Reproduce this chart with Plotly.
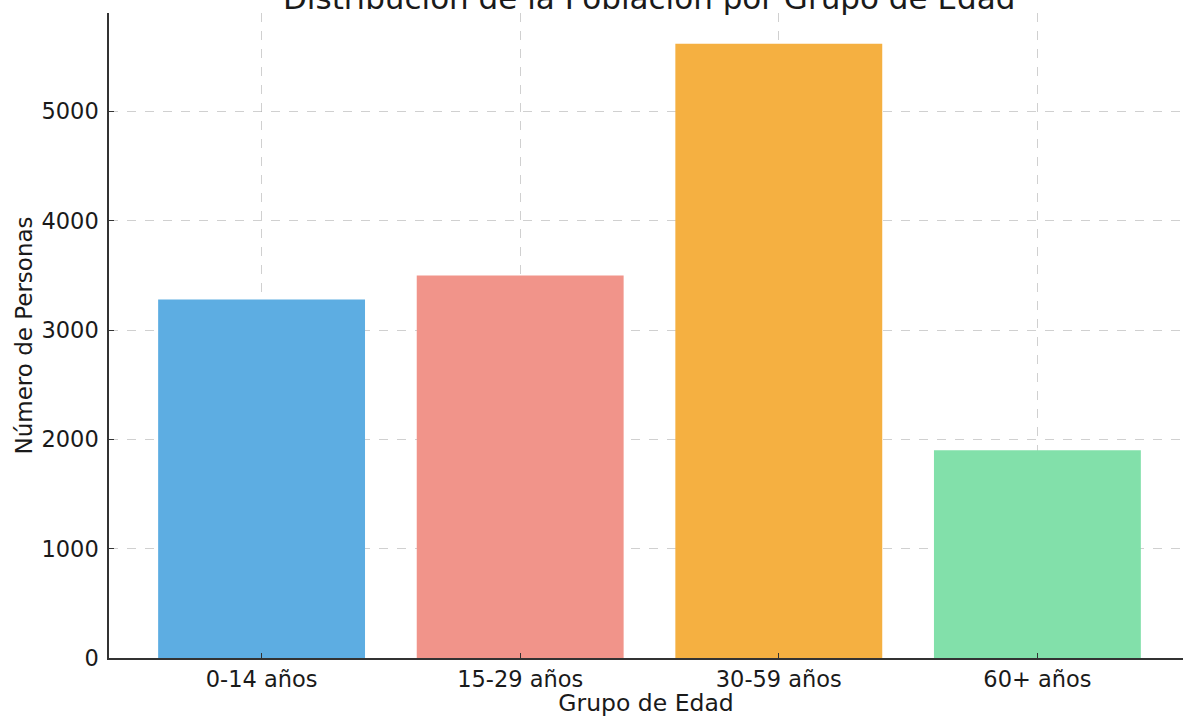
import plotly.graph_objects as go

categories = ["0-14 años", "15-29 años", "30-59 años", "60+ años"]
values = [3280, 3500, 5620, 1900]
colors = ["#5DADE2", "#F1948A", "#F5B041", "#82E0AA"]
y_ticks = [0, 1000, 2000, 3000, 4000, 5000]

title_text = "Distribución de la Población por Grupo de Edad"
x_title = "Grupo de Edad"
y_title = "Número de Personas"

FONT = "DejaVu Sans"
n = len(categories)
xs = list(range(n))

fig = go.Figure()
fig.add_trace(go.Bar(
    x=xs, y=values, width=0.8,
    marker=dict(color=colors, line=dict(width=0)),
    showlegend=False,
))

ymax = max(values) * 1.05

grid = dict(showgrid=True, gridcolor="rgba(170,170,170,0.55)", griddash="dash", gridwidth=1)

fig.update_layout(
    width=1183, height=717,
    margin=dict(l=109, r=0, t=13, b=59, autoexpand=False),
    paper_bgcolor="white", plot_bgcolor="white",
    font=dict(family=FONT, size=22, color="#1a1a1a"),
    bargap=0.2,
    xaxis=dict(
        range=[-0.59, 3.563], automargin=False,
        tickmode="array", tickvals=xs, ticktext=categories,
        ticks="inside", ticklen=5, tickcolor="#333333", tickwidth=1,
        showline=True, linecolor="#333333", linewidth=1.5,
        zeroline=False, layer="above traces",
        title=dict(text=x_title, font=dict(size=23.5), standoff=7),
        tickfont=dict(size=22.5, color="#1a1a1a"),
        **grid,
    ),
    yaxis=dict(
        range=[0, ymax], automargin=False,
        tickmode="array", tickvals=y_ticks, ticktext=[str(v) for v in y_ticks],
        ticks="inside", ticklen=5, tickcolor="#333333", tickwidth=1,
        showline=True, linecolor="#333333", linewidth=1.5,
        zeroline=False, layer="above traces",
        ticklabelstandoff=4,
        title=dict(text=y_title, font=dict(size=23), standoff=2),
        tickfont=dict(size=22.5, color="#1a1a1a"),
        **grid,
    ),
    annotations=[dict(
        text=title_text, xref="x", yref="paper", x=1.5, y=1,
        xanchor="center", yanchor="bottom", yshift=-5,
        showarrow=False, font=dict(family=FONT, size=31, color="#1a1a1a"),
    )],
)

fig.write_html(
    "out.html",
    config={"displayModeBar": False},
    post_script="document.body.style.margin='0';document.body.style.overflow='hidden';",
)
